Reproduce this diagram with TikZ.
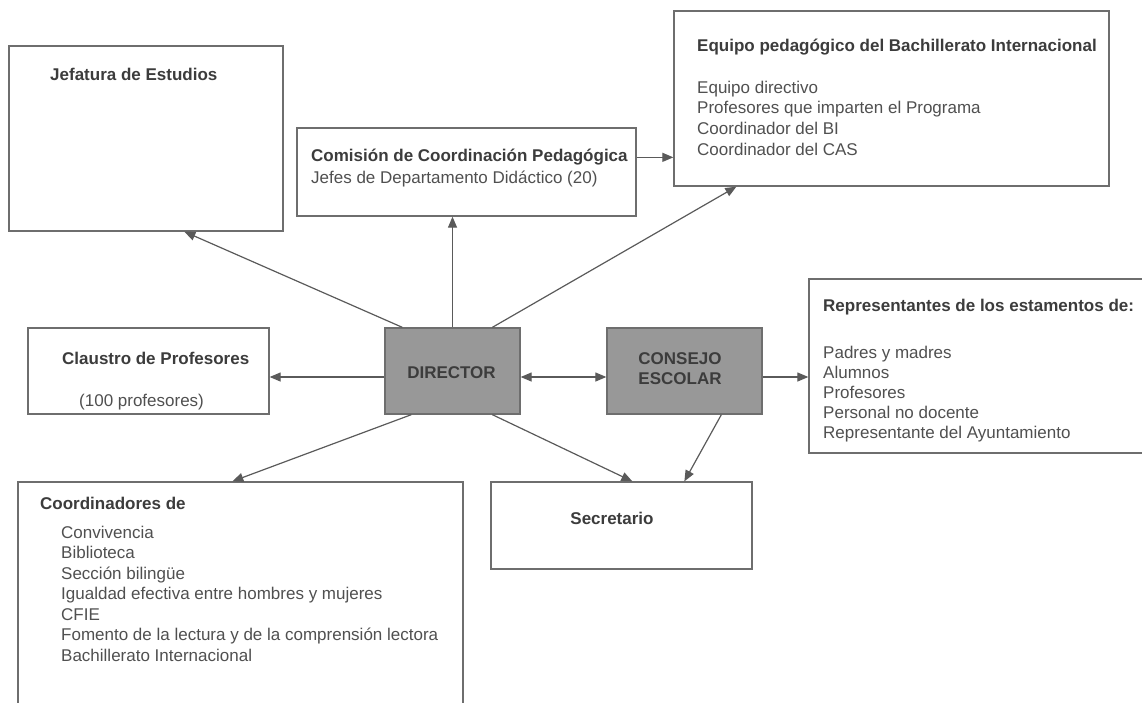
\documentclass[tikz,border=0pt]{standalone}
\usepackage{fontspec}
\setmainfont{Liberation Sans}
\usetikzlibrary{arrows.meta,calc}
\definecolor{linegray}{HTML}{5A5A5A}
\definecolor{boxgray}{HTML}{6E6E6E}
\definecolor{titlecol}{HTML}{3C3C3C}
\definecolor{bodycol}{HTML}{505050}
\definecolor{fillgray}{HTML}{989898}
\tikzset{
  box/.style={draw=boxgray, line width=1.3pt, fill=white, rectangle, inner sep=0pt},
  darkbox/.style={draw=boxgray, line width=1.3pt, fill=fillgray, rectangle, inner sep=0pt},
  ttl/.style={anchor=base west, inner sep=0pt, text=titlecol, font=\fontsize{17}{20.7}\selectfont\bfseries},
  body/.style={anchor=base west, inner sep=0pt, text=bodycol, font=\fontsize{17}{20.6}\selectfont},
  arr/.style={draw=linegray, line width=1.2pt, -{Triangle[length=11pt,width=9pt]}},
  darr/.style={draw=linegray, line width=1.2pt, {Triangle[length=11pt,width=9pt]}-{Triangle[length=11pt,width=9pt]}}
}
\begin{document}
\begin{tikzpicture}[x=1pt,y=-1pt]
\useasboundingbox (0,0) rectangle (1142,702);
% boxes
\node[box, minimum width=274pt, minimum height=185pt] (jef) at (146,138.5) {};
\node[box, minimum width=339pt, minimum height=88pt] (com) at (466.5,172) {};
\node[box, minimum width=435pt, minimum height=175pt] (equ) at (891.5,98.5) {};
\node[box, minimum width=241pt, minimum height=86pt] (cla) at (148.5,371) {};
\node[darkbox, minimum width=135pt, minimum height=86pt] (dir) at (452.5,371) {};
\node[darkbox, minimum width=155pt, minimum height=86pt] (con) at (684.5,371) {};
\node[box, minimum width=351pt, minimum height=174pt] (rep) at (984.5,366) {};
\node[box, minimum width=445pt, minimum height=238pt] (coo) at (240.5,601) {};
\node[box, minimum width=261pt, minimum height=87pt] (sec) at (621.5,525.5) {};
% texts
\node[ttl] (jeft) at (50,80) {Jefatura de Estudios};
\node[ttl] (comt) at (311,161) {Comisión de Coordinación Pedagógica};
\node[body] (comb) at (311,183) {Jefes de Departamento Didáctico (20)};
\node[ttl] (equt) at (697,51) {Equipo pedagógico del Bachillerato Internacional};
\foreach \t [count=\i] in {Equipo directivo,Profesores que imparten el Programa,Coordinador del BI,Coordinador del CAS}
  \node[body] (equb\i) at (697,{93+20.7*(\i-1)}) {\t};
\node[ttl] (clat) at (62,364) {Claustro de Profesores};
\node[body] (clab) at (79,406) {(100 profesores)};
\node[text=titlecol, font=\fontsize{17}{20.7}\selectfont\bfseries, inner sep=0pt] (dirt) at (451.5,373) {DIRECTOR};
\node[text=titlecol, font=\fontsize{17}{20.2}\selectfont\bfseries, inner sep=0pt, align=center] (cont) at (680,369) {CONSEJO\\ESCOLAR};
\node[ttl] (rept) at (823,311) {Representantes de los estamentos de:};
\foreach \t [count=\i] in {Padres y madres,Alumnos,Profesores,Personal no docente,Representante del Ayuntamiento}
  \node[body] (repb\i) at (823,{358+20*(\i-1)}) {\t};
\node[ttl] (coot) at (40,509) {Coordinadores de};
\foreach \t [count=\i] in {Convivencia,Biblioteca,Sección bilingüe,Igualdad efectiva entre hombres y mujeres,CFIE,Fomento de la lectura y de la comprensión lectora,Bachillerato Internacional}
  \node[body] (coob\i) at (61,{538+20.5*(\i-1)}) {\t};
\node[text=titlecol, font=\fontsize{17}{20.7}\selectfont\bfseries, inner sep=0pt] (sect) at (612,518) {Secretario};
% connectors
\draw[arr] ($(dir.north west)+(18,0)$) -- ($(jef.south west)+(176,0)$);
\draw[arr] (dir.north) -- (dir.north |- com.south);
\draw[arr] ($(dir.north west)+(108,0)$) -- ($(equ.south west)+(63,0)$);
\draw[arr] ($(com.north east)+(0,30)$) -- ($(equ.north west)+(0,147)$);
\draw[arr] ($(dir.west)+(0,6)$) -- ($(cla.east)+(0,6)$);
\draw[darr] ($(dir.east)+(0,6)$) -- ($(con.west)+(0,6)$);
\draw[arr] ($(con.east)+(0,6)$) -- ($(rep.west)+(0,11)$);
\draw[arr] ($(dir.south west)+(27,0)$) -- ($(coo.north west)+(215,0)$);
\draw[arr] ($(dir.south west)+(108,0)$) -- ($(sec.north west)+(142,0)$);
\draw[arr] ($(con.south west)+(115,0)$) -- ($(sec.north west)+(194,0)$);
\end{tikzpicture}
\end{document}
